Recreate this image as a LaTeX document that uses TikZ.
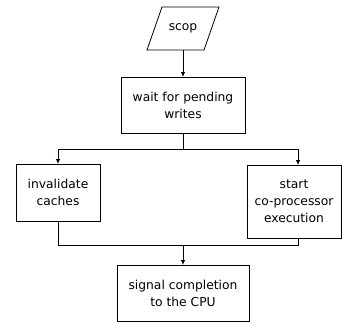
\documentclass[tikz,border=0pt]{standalone}
\usepackage{fontspec}
\setmainfont{DejaVu Sans}
\usetikzlibrary{arrows.meta}
\begin{document}
\begin{tikzpicture}[x=1pt,y=-1pt,
  font=\fontsize{12.3}{17}\selectfont,
  box/.style={draw, line width=0.8pt, align=center, inner sep=0pt, outer sep=0pt},
  conn/.style={line width=0.8pt},
  arr/.style={conn,-{Latex[length=5pt,width=4.5pt]}}]
\useasboundingbox (0,0) rectangle (342,322);
\node[minimum width=57pt, minimum height=43pt, inner sep=0pt, outer sep=0pt] (scop) at (183,28.5) {scop};
\draw[line width=0.8pt] ([xshift=-7.5pt]scop.south west) -- ([xshift=7.5pt]scop.north west)
  -- ([xshift=7.5pt]scop.north east) -- ([xshift=-7.5pt]scop.south east) -- cycle;
\node[box, minimum width=124pt, minimum height=56pt] (wait) at (183,105) {wait for pending\\writes};
\node[box, minimum width=84pt, minimum height=57pt] (inv) at (58,192.5) {invalidate\\caches};
\node[box, minimum width=94pt, minimum height=73pt] (start) at (294,201.5) {start\\co-processor\\execution};
\node[box, minimum width=132pt, minimum height=56pt] (signal) at (183,293) {signal completion\\to the CPU};
\coordinate (split) at (183,149);
\coordinate (join) at (183,245.5);
\draw[arr] (scop) -- (wait);
\draw[conn] (wait) -- (split);
\draw[arr] (split) -| (inv.north);
\draw[arr] (split) -| ([xshift=4pt]start.north);
\draw[conn] (inv.south) |- (join);
\draw[conn] ([xshift=4pt]start.south) |- (join);
\draw[arr] (join) -- (signal);
\end{tikzpicture}
\end{document}
